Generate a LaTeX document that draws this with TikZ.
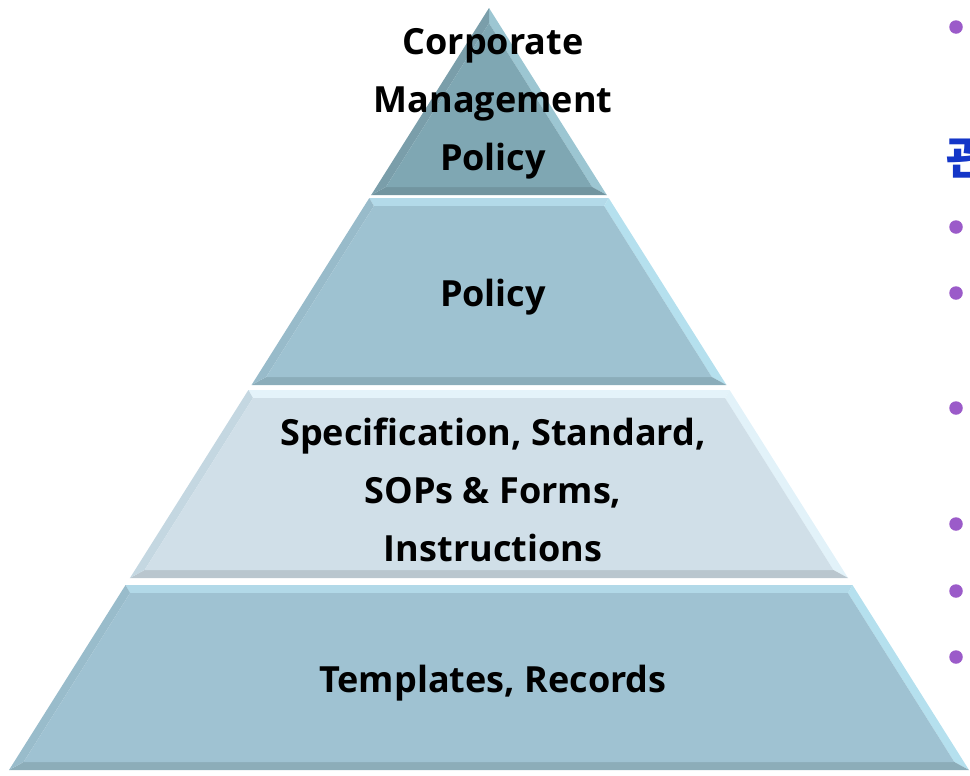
\documentclass[tikz,border=0pt]{standalone}
\usepackage{fontspec}
\setmainfont{Open Sans}
\newfontfamily\krfont{Noto Sans CJK KR}
%%Màu các tầng
\definecolor{faceA}{HTML}{7FA7B3}\definecolor{topA}{HTML}{98BEC9}
\definecolor{rightA}{HTML}{9CC6D2}\definecolor{botA}{HTML}{7295A0}\definecolor{leftA}{HTML}{7A9EAA}
\definecolor{faceB}{HTML}{9EC2D1}\definecolor{topB}{HTML}{B3DAE9}
\definecolor{rightB}{HTML}{B5E0EE}\definecolor{botB}{HTML}{8BADBA}\definecolor{leftB}{HTML}{98BBCA}
\definecolor{faceC}{HTML}{D0DFE8}\definecolor{topC}{HTML}{E4F3FA}
\definecolor{rightC}{HTML}{E2F2F9}\definecolor{botC}{HTML}{B9C6CE}\definecolor{leftC}{HTML}{C4D7E1}
\definecolor{faceD}{HTML}{9FC2D2}\definecolor{topD}{HTML}{B2D9E8}
\definecolor{rightD}{HTML}{B5E0EE}\definecolor{botD}{HTML}{8CADB9}\definecolor{leftD}{HTML}{99BCCB}
\definecolor{dotc}{HTML}{9B5BC9}
\definecolor{krblue}{HTML}{1436C8}
%%Một tầng của kim tự tháp: y trên, y dưới, chữ cái màu
\newcommand{\tang}[3]{%
	\pgfmathsetmacro{\slp}{\phw/(\pby-\pay)}
	\pgfmathsetmacro{\tWa}{\slp*(#1-\pay)}
	\pgfmathsetmacro{\tWb}{\slp*(#2-\pay)}
	\pgfmathsetmacro{\tYa}{max(#1+\bev,\pay+1.2*\bev/\slp)}
	\pgfmathsetmacro{\tYb}{#2-\bev}
	\pgfmathsetmacro{\tWc}{\slp*(\tYa-\pay)-1.2*\bev}
	\pgfmathsetmacro{\tWd}{\slp*(\tYb-\pay)-1.2*\bev}
	\fill[top#3] (\pcx-\tWa,#1)--(\pcx+\tWa,#1)--(\pcx+\tWc,\tYa)--(\pcx-\tWc,\tYa)--cycle;
	\fill[right#3] (\pcx+\tWa,#1)--(\pcx+\tWb,#2)--(\pcx+\tWd,\tYb)--(\pcx+\tWc,\tYa)--cycle;
	\fill[bot#3] (\pcx+\tWb,#2)--(\pcx-\tWb,#2)--(\pcx-\tWd,\tYb)--(\pcx+\tWd,\tYb)--cycle;
	\fill[left#3] (\pcx-\tWb,#2)--(\pcx-\tWa,#1)--(\pcx-\tWc,\tYa)--(\pcx-\tWd,\tYb)--cycle;
	\fill[face#3] (\pcx-\tWc,\tYa)--(\pcx+\tWc,\tYa)--(\pcx+\tWd,\tYb)--(\pcx-\tWd,\tYb)--cycle;
}
\tikzset{lbl/.style={align=center, font=\bfseries\fontsize{20.5}{33}\selectfont, text=black}}
\begin{document}
\begin{tikzpicture}[x=0.02cm, y=-0.02cm, line join=round, line cap=round]
	\clip (0,0) rectangle (970,775);
	%%Đỉnh, tâm và nửa đáy
	\def\pcx{489}
	\def\pay{8}
	\def\pby{770}
	\def\phw{480}
	\def\bev{8}
	%%Các tầng
	\tang{8}{195}{A}
	\tang{198}{385}{B}
	\tang{390}{578}{C}
	\tang{585}{770}{D}
	%%Chữ
	\node[lbl] (corp) at (493,104) {Corporate\\Management\\Policy};
	\node[lbl] (pol) at (493,297) {Policy};
	\node[lbl] (spec) at (493,490) {Specification, Standard,\\SOPs \& Forms,\\Instructions};
	\node[lbl] (tmpl) at (493,683) {Templates, Records};
	%%Bên phải
	\foreach \y in {27,227,293,408,524,591,657}
	\fill[dotc] (956,\y) circle(0.135cm);
	\node[anchor=west, inner sep=0pt, text=krblue, font=\krfont\bfseries\fontsize{26}{30}\selectfont] (gwan) at (946,157) {관};
\end{tikzpicture}
\end{document}
